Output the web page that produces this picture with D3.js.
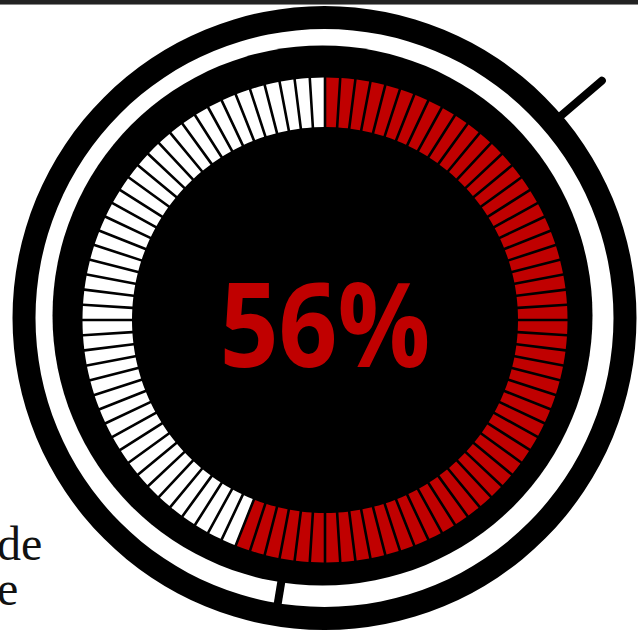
<!DOCTYPE html>
<html>
<head>
<meta charset="utf-8">
<script src="https://cdn.jsdelivr.net/npm/d3@7/dist/d3.min.js"></script>
<style>
  html, body { margin: 0; padding: 0; background: #fff; }
  svg { display: block; }
</style>
</head>
<body>
<div id="chart"></div>
<script>
// ---- data ----
const segmentCount = 100;
const percentValue = 56;
const centerLabel = ["56%"];
const sideTextLines = ["de", "e"];

// ---- layout ----
const W = 638, H = 636;
const svg = d3.select("#chart").append("svg").attr("width", W).attr("height", H);

// top bar
svg.append("rect").attr("x", 0).attr("y", 0).attr("width", W).attr("height", 4).attr("fill", "#222");
svg.append("rect").attr("x", 0).attr("y", 4).attr("width", W).attr("height", 1).attr("fill", "#888");

// side text (cut-off paragraph)
svg.append("g").selectAll("text").data(sideTextLines).join("text")
  .attr("x", -3)
  .attr("y", (d, i) => 560 + i * 45)
  .attr("text-anchor", "start")
  .attr("font-family", "'Liberation Serif', 'DejaVu Serif', serif")
  .attr("font-size", 48)
  .attr("fill", "#111")
  .text(d => d);

// outer ring
const ringC = [324.5, 318];
const ring = svg.append("g").attr("transform", `translate(${ringC})`);
ring.append("path")
  .attr("d", d3.arc()({innerRadius: 289, outerRadius: 312, startAngle: 0, endAngle: 2 * Math.PI}))
  .attr("fill", "#000");

// handle (upper right)
const handleAngle = 49.45 * Math.PI / 180; // clockwise from top
ring.append("line")
  .attr("x1", 300 * Math.sin(handleAngle)).attr("y1", -300 * Math.cos(handleAngle))
  .attr("x2", 365 * Math.sin(handleAngle)).attr("y2", -365 * Math.cos(handleAngle))
  .attr("stroke", "#000").attr("stroke-width", 8).attr("stroke-linecap", "round");

// inner black disc
const discC = [322.5, 315.5];
svg.append("circle").attr("cx", discC[0]).attr("cy", discC[1]).attr("r", 270).attr("fill", "#000");

// notch at bottom crossing the white gap
const notchAngle = (180 + 9.3) * Math.PI / 180;
ring.append("line")
  .attr("x1", 262 * Math.sin(notchAngle)).attr("y1", -262 * Math.cos(notchAngle))
  .attr("x2", 295 * Math.sin(notchAngle)).attr("y2", -295 * Math.cos(notchAngle))
  .attr("stroke", "#000").attr("stroke-width", 8);

// segmented gauge
const segC = [325, 320];
const segIdx = d3.range(segmentCount);
const angle = d3.scaleLinear().domain([0, segmentCount]).range([0, 2 * Math.PI]);
const segArc = d3.arc()
  .innerRadius(193)
  .outerRadius(242.5)
  .padRadius(242)
  .padAngle(2.6 / 242);
const filled = Math.round(percentValue / 100 * segmentCount);
svg.append("g").attr("transform", `translate(${segC})`)
  .selectAll("path").data(segIdx).join("path")
  .attr("d", i => segArc({startAngle: angle(i), endAngle: angle(i + 1)}))
  .attr("fill", i => i < filled ? "#c00000" : "#fff");

// center label
svg.append("text")
  .attr("transform", "translate(325,367) scale(0.88,1)")
  .attr("text-anchor", "middle")
  .attr("font-family", "'Open Sans', 'Noto Sans', sans-serif")
  .attr("font-weight", 700)
  .attr("font-size", 117)
  .attr("fill", "#c00000")
  .text(centerLabel[0]);
</script>
</body>
</html>
